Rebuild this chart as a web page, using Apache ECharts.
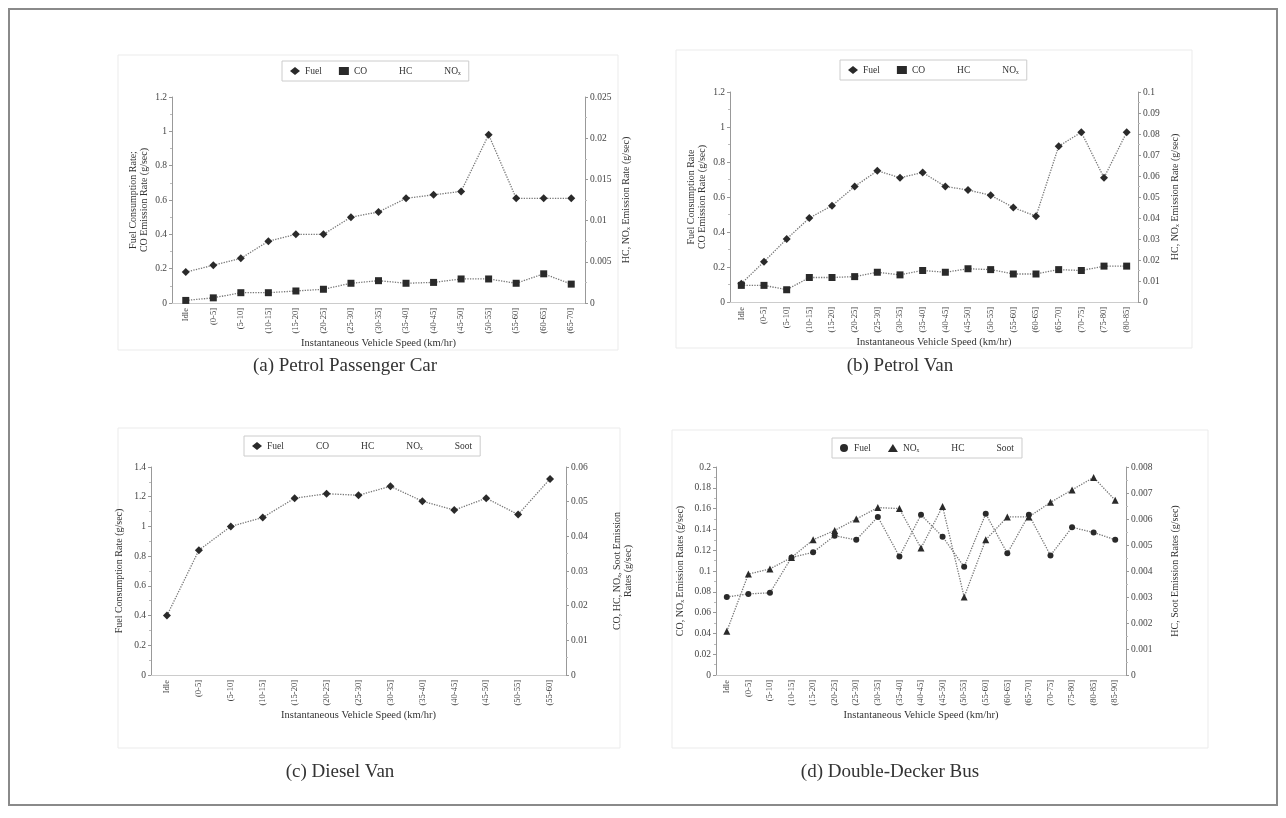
<!DOCTYPE html>
<html><head><meta charset="utf-8">
<script src="https://cdn.jsdelivr.net/npm/echarts@6/dist/echarts.min.js"></script>
<style>html,body{margin:0;padding:0;background:#fff}#c{width:1286px;height:818px}</style>
</head><body><div id="c"></div>
<script>
// ---------- data ----------
const catsA = ['Idle','(0-5]','(5-10]','(10-15]','(15-20]','(20-25]','(25-30]','(30-35]','(35-40]','(40-45]','(45-50]','(50-55]','(55-60]','(60-65]','(65-70]'];
const fuelA = [0.18,0.22,0.26,0.36,0.40,0.40,0.50,0.53,0.61,0.63,0.65,0.98,0.61,0.61,0.61];
const coA   = [0.015,0.03,0.06,0.06,0.07,0.08,0.115,0.13,0.115,0.12,0.14,0.14,0.115,0.17,0.11];

const catsB = ['Idle','(0-5]','(5-10]','(10-15]','(15-20]','(20-25]','(25-30]','(30-35]','(35-40]','(40-45]','(45-50]','(50-55]','(55-60]','(60-65]','(65-70]','(70-75]','(75-80]','(80-85]'];
const fuelB = [0.105,0.23,0.36,0.48,0.55,0.66,0.75,0.71,0.74,0.66,0.64,0.61,0.54,0.49,0.89,0.97,0.71,0.97];
const coB   = [0.095,0.095,0.07,0.14,0.14,0.145,0.17,0.155,0.18,0.17,0.19,0.185,0.16,0.16,0.185,0.18,0.205,0.205];

const catsC = ['Idle','(0-5]','(5-10]','(10-15]','(15-20]','(20-25]','(25-30]','(30-35]','(35-40]','(40-45]','(45-50]','(50-55]','(55-60]'];
const fuelC = [0.40,0.84,1.00,1.06,1.19,1.22,1.21,1.27,1.17,1.11,1.19,1.08,1.32];

const catsD = ['Idle','(0-5]','(5-10]','(10-15]','(15-20]','(20-25]','(25-30]','(30-35]','(35-40]','(40-45]','(45-50]','(50-55]','(55-60]','(60-65]','(65-70]','(70-75]','(75-80]','(80-85]','(85-90]'];
const fuelD = [0.075,0.078,0.079,0.113,0.118,0.134,0.130,0.152,0.114,0.154,0.133,0.104,0.155,0.117,0.154,0.115,0.142,0.137,0.130];
const noxD  = [0.042,0.097,0.102,0.113,0.130,0.139,0.150,0.161,0.160,0.122,0.162,0.075,0.130,0.152,0.152,0.166,0.178,0.190,0.168];

const xTitle = 'Instantaneous Vehicle Speed (km/hr)';
const captions = ['(a) Petrol Passenger Car','(b) Petrol Van','(c) Diesel Van','(d) Double-Decker Bus'];

// ---------- styles ----------
const FONT = '"Liberation Serif","DejaVu Serif",serif';
const TXT = '#444';
const chart = echarts.init(document.getElementById('c'));

const grids = [
  {left:172, top:97,  width:413, height:206},
  {left:730, top:92,  width:408, height:210},
  {left:151, top:467, width:415, height:208},
  {left:716, top:467, width:410, height:208}
];
function yAx(gi, pos, min, max, step, name, gap){
  return {type:'value', gridIndex:gi, position:pos, min:min, max:max, interval:step,
    name:name, nameLocation:'middle', nameGap:gap, nameRotate:90,
    nameTextStyle:{fontFamily:FONT, fontSize:10, color:'#333', lineHeight:11},
    axisLine:{show:true, lineStyle:{color:'#999'}}, axisTick:{show:true, length:3, lineStyle:{color:'#999'}},
    minorTick:{show:true, splitNumber:2, length:2, lineStyle:{color:'#bbb'}},
    splitLine:{show:false},
    axisLabel:{fontFamily:FONT, fontSize:9.5, color:TXT, margin:5,
      formatter: v => String(+v.toFixed(4))}};
}
function xAx(gi, cats){
  return {type:'category', gridIndex:gi, data:cats, boundaryGap:true,
    name:xTitle, nameLocation:'middle', nameGap:34,
    nameTextStyle:{fontFamily:FONT, fontSize:10.5, color:'#333'},
    axisLine:{lineStyle:{color:'#ccc'}}, axisTick:{show:false},
    axisLabel:{rotate:90, interval:0, fontFamily:FONT, fontSize:8.5, color:TXT, margin:5}};
}
const xAxis = [xAx(0,catsA), xAx(1,catsB), xAx(2,catsC), xAx(3,catsD)];
const yAxis = [
  yAx(0,'left',0,1.2,0.2,'Fuel Consumption Rate;\nCO Emission Rate (g/sec)',22),
  yAx(0,'right',0,0.025,0.005,'HC, NOₓ Emission Rate (g/sec)',36),
  yAx(1,'left',0,1.2,0.2,'Fuel Consumption Rate\nCO Emission Rate (g/sec)',22),
  yAx(1,'right',0,0.1,0.01,'HC, NOₓ Emission Rate (g/sec)',32),
  yAx(2,'left',0,1.4,0.2,'Fuel Consumption Rate (g/sec)',26),
  yAx(2,'right',0,0.06,0.01,'CO, HC, NOₓ, Soot Emission\nRates (g/sec)',46),
  yAx(3,'left',0,0.2,0.02,'CO, NOₓ Emission Rates (g/sec)',30),
  yAx(3,'right',0,0.008,0.001,'HC, Soot Emission Rates (g/sec)',44)
];

function line(name, xi, yi, data, symbol, size){
  return {type:'line', name:name, xAxisIndex:xi, yAxisIndex:yi, data:data,
    symbol:symbol, symbolSize:size, showSymbol:true,
    itemStyle:{color:'#2a2a2a'}, lineStyle:{color:'#777', width:1.3, type:'dotted'}};
}
function ghost(name, xi, yi){
  return {type:'line', name:name, xAxisIndex:xi, yAxisIndex:yi, data:[],
    symbol:'none', itemStyle:{color:'#fff'}, lineStyle:{color:'#fff', width:0}};
}
const series = [
  line('Fuel',0,0,fuelA,'diamond',8), line('CO',0,0,coA,'rect',7), ghost('HC',0,1), ghost('NOₓ',0,1),
  line('Fuel ',1,2,fuelB,'diamond',8), line('CO ',1,2,coB,'rect',7), ghost('HC ',1,3), ghost('NOₓ ',1,3),
  line('Fuel  ',2,4,fuelC,'diamond',8), ghost('CO  ',2,5), ghost('HC  ',2,5), ghost('NOₓ  ',2,5), ghost('Soot  ',2,5),
  line('Fuel   ',3,6,fuelD,'circle',6), line('NOₓ   ',3,6,noxD,'triangle',7), ghost('HC   ',3,7), ghost('Soot   ',3,7)
];
function leg(names, left, top, icons){
  return {show:true, left:left, top:top, orient:'horizontal', itemWidth:10, itemHeight:8, itemGap:17,
    padding:[5,8], borderColor:'#ccc', borderWidth:1,
    textStyle:{fontFamily:FONT, fontSize:9.5, color:'#333'},
    formatter: n => n.trim(),
    data: names.map((n,i)=>({name:n, icon:icons[i]}))};
}
const legend = [
  leg(['Fuel','CO','HC','NOₓ'], 282, 61, ['diamond','rect','rect','rect']),
  leg(['Fuel ','CO ','HC ','NOₓ '], 840, 60, ['diamond','rect','rect','rect']),
  leg(['Fuel  ','CO  ','HC  ','NOₓ  ','Soot  '], 244, 436, ['diamond','rect','rect','rect','rect']),
  leg(['Fuel   ','NOₓ   ','HC   ','Soot   '], 832, 438, ['circle','triangle','rect','rect'])
];

function box(x,y,w,h,c,lw){ return {type:'rect', shape:{x:x,y:y,width:w,height:h}, style:{fill:null, stroke:c, lineWidth:lw}, silent:true, z:-1}; }
function cap(t,x,y){ return {type:'text', x:x, y:y, style:{text:t, font:'19px '+FONT, fill:'#333', textAlign:'center', textVerticalAlign:'middle'}}; }
const graphic = [
  box(9,9,1268,796,'#8a8a8a',2),
  box(118,55,500,295,'#ebebeb',1),
  box(676,50,516,298,'#ebebeb',1),
  box(118,428,502,320,'#ebebeb',1),
  box(672,430,536,318,'#ebebeb',1),
  cap(captions[0],345,366), cap(captions[1],900,366),
  cap(captions[2],340,772), cap(captions[3],890,772)
];

chart.setOption({
  animation:false, backgroundColor:'#fff',
  grid:grids, xAxis:xAxis, yAxis:yAxis, series:series, legend:legend, graphic:graphic
});
</script></body></html>
